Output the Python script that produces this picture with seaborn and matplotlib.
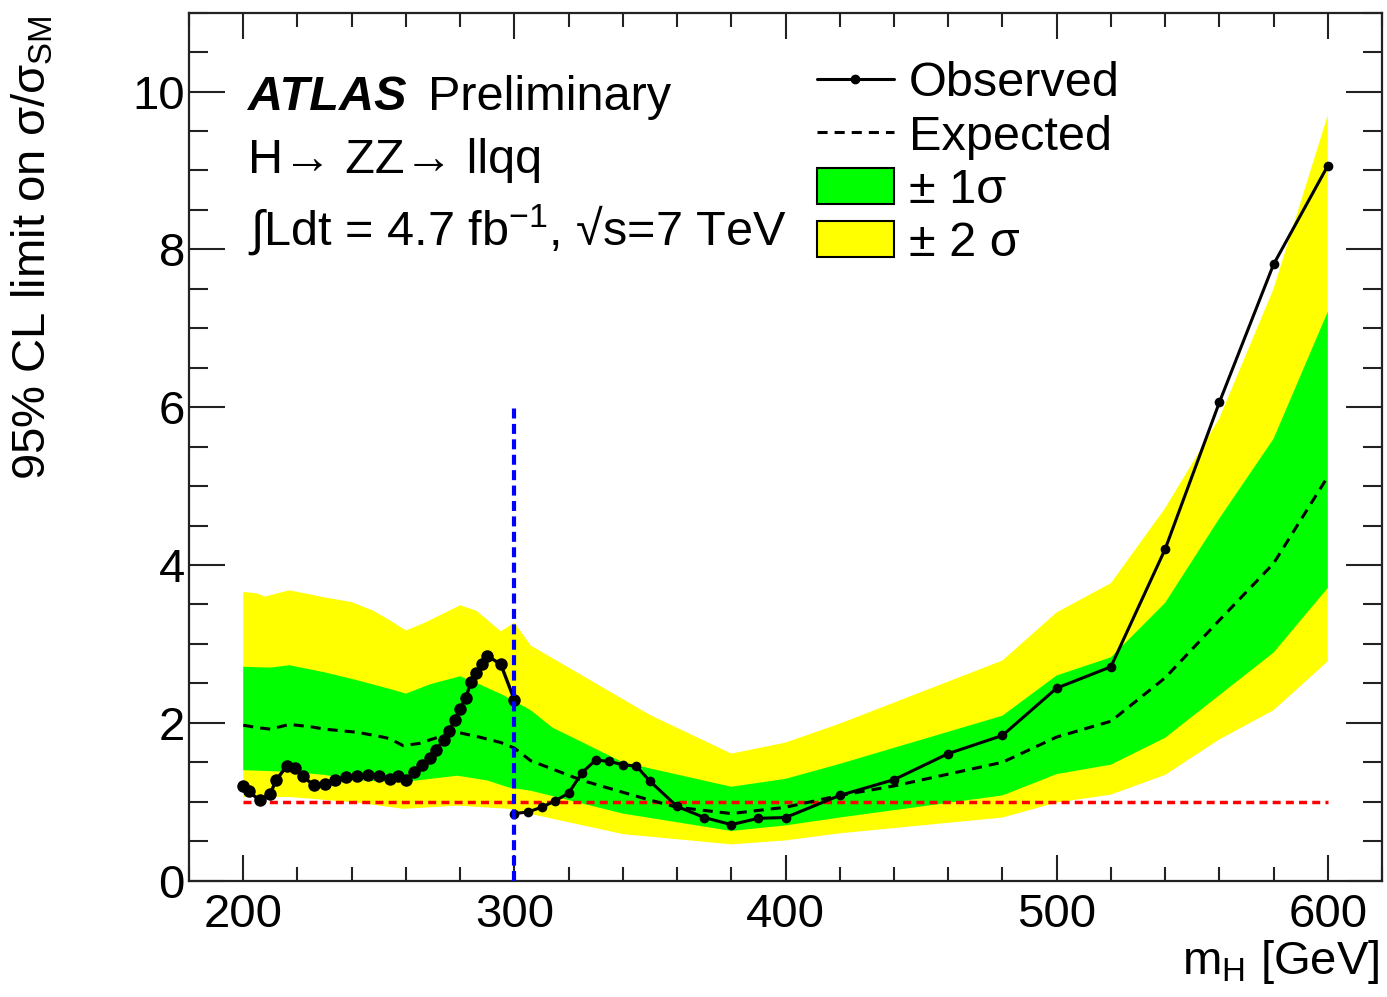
import numpy as np
import pandas as pd
import matplotlib
matplotlib.use("Agg")
import matplotlib.pyplot as plt
from matplotlib.lines import Line2D
from matplotlib.patches import Patch
import seaborn as sns

# observed limit, low-mass analysis (200-300 GeV)
obs_lo_m = [200, 202, 206, 210, 212, 216, 219, 222, 226, 230, 234, 238, 242, 246,
            250, 254, 257, 260, 263, 266, 269, 271, 274, 276, 278, 280, 282, 284,
            286, 288, 290, 295, 300]
obs_lo = [1.20, 1.13, 1.02, 1.10, 1.27, 1.45, 1.43, 1.32, 1.21, 1.23, 1.28, 1.31, 1.32, 1.34,
          1.33, 1.29, 1.32, 1.28, 1.38, 1.47, 1.55, 1.66, 1.78, 1.90, 2.04, 2.18, 2.31, 2.52,
          2.63, 2.74, 2.85, 2.74, 2.29]

# observed limit, high-mass analysis (300-600 GeV)
obs_hi_m = [300, 305, 310, 315, 320, 325, 330, 335, 340, 345, 350, 360, 370, 380, 390,
            400, 420, 440, 460, 480, 500, 520, 540, 560, 580, 600]
obs_hi = [0.85, 0.87, 0.93, 1.01, 1.11, 1.37, 1.53, 1.51, 1.47, 1.45, 1.26, 0.94, 0.80, 0.71, 0.79,
          0.80, 1.08, 1.28, 1.61, 1.84, 2.44, 2.71, 4.20, 6.06, 7.81, 9.06]

# expected limit
exp_m = [200, 205, 210, 217, 225, 230, 242, 250, 254, 259, 265, 272, 279, 287, 295, 300,
         306, 325, 348, 360, 380, 400, 420, 440, 460, 480, 500, 520, 540, 560, 580, 600]
exp_v = [1.97, 1.94, 1.92, 1.98, 1.95, 1.92, 1.88, 1.83, 1.80, 1.71, 1.74, 1.82, 1.88, 1.82, 1.75, 1.68,
         1.52, 1.27, 1.04, 0.93, 0.85, 0.93, 1.08, 1.20, 1.35, 1.50, 1.82, 2.02, 2.57, 3.30, 4.02, 5.12]

# +-1 sigma band edges
s1_up_m = [200, 210, 217, 230, 242, 254, 260, 269, 280, 287, 296, 306, 314, 340, 380, 400,
           420, 480, 500, 520, 540, 560, 580, 600]
s1_up = [2.71, 2.70, 2.73, 2.64, 2.54, 2.43, 2.37, 2.49, 2.59, 2.49, 2.35, 2.16, 1.94, 1.50, 1.19, 1.29,
         1.48, 2.09, 2.60, 2.83, 3.52, 4.59, 5.60, 7.21]
s1_dn_m = [200, 217, 230, 242, 259, 279, 290, 298, 306, 340, 380, 400, 420, 480, 500, 520,
           540, 560, 580, 600]
s1_dn = [1.40, 1.38, 1.34, 1.27, 1.25, 1.33, 1.27, 1.18, 1.14, 0.85, 0.63, 0.70, 0.80, 1.08, 1.35, 1.47,
         1.81, 2.35, 2.89, 3.71]

# +-2 sigma band edges
s2_up_m = [200, 205, 208, 217, 230, 240, 248, 254, 260, 267, 280, 286, 295, 300, 306, 330,
           350, 380, 400, 420, 480, 500, 520, 540, 560, 580, 600]
s2_up = [3.66, 3.64, 3.60, 3.68, 3.59, 3.53, 3.42, 3.30, 3.17, 3.27, 3.49, 3.42, 3.16, 3.27, 2.98, 2.50,
         2.10, 1.61, 1.75, 1.99, 2.79, 3.40, 3.77, 4.72, 5.86, 7.50, 9.70]
s2_dn_m = [200, 217, 242, 259, 279, 298, 300, 340, 380, 400, 420, 480, 500, 520, 540, 560,
           580, 600]
s2_dn = [1.06, 1.06, 0.99, 0.91, 0.95, 0.91, 0.89, 0.59, 0.46, 0.51, 0.60, 0.80, 0.99, 1.09, 1.34, 1.79,
         2.16, 2.78]

sns.set_theme(style="ticks")
plt.rcParams["font.family"] = ["Liberation Sans", "DejaVu Sans"]
plt.rcParams["mathtext.fontset"] = "custom"
plt.rcParams["mathtext.rm"] = "Liberation Sans"
plt.rcParams["mathtext.it"] = "Liberation Sans:italic"
plt.rcParams["mathtext.bf"] = "Liberation Sans:bold"
plt.rcParams["text.color"] = "black"
plt.rcParams["axes.labelcolor"] = "black"
plt.rcParams["xtick.color"] = "black"
plt.rcParams["ytick.color"] = "black"

fig = plt.figure(figsize=(13.87, 9.97), dpi=100)
ax = fig.add_axes([0.1363, 0.1167, 0.8601, 0.8706])

yellow = "#ffff00"
green = "#00ff00"

ax.fill(np.r_[s2_up_m, s2_dn_m[::-1]], np.r_[s2_up, s2_dn[::-1]],
        color=yellow, lw=0, zorder=1)
ax.fill(np.r_[s1_up_m, s1_dn_m[::-1]], np.r_[s1_up, s1_dn[::-1]],
        color=green, lw=0, zorder=2)

ax.plot([200, 600], [1, 1], color="#ff0000", lw=2.5, linestyle=(0, (2.3, 1.5)), zorder=3)

sns.lineplot(x=exp_m, y=exp_v, ax=ax, color="black", lw=2.2,
             linestyle=(0, (3.3, 2.3)), zorder=4)
sns.lineplot(x=obs_lo_m, y=obs_lo, ax=ax, color="black", lw=2.4,
             marker="o", markersize=9, markeredgewidth=0, zorder=5)
sns.lineplot(x=obs_hi_m, y=obs_hi, ax=ax, color="black", lw=2.2,
             marker="o", markersize=7, markeredgewidth=0, zorder=5)

ax.plot([300, 300], [0, 6], color="#0000ff", lw=3, linestyle=(0, (2.4, 1.3)), zorder=6)

ax.set_xlim(180, 620)
ax.set_ylim(0, 11)
ax.set_xticks([200, 300, 400, 500, 600])
ax.set_xticks(np.arange(180, 621, 20), minor=True)
ax.set_yticks([0, 2, 4, 6, 8, 10])
ax.set_yticks(np.arange(0, 11.01, 0.5), minor=True)

for s in ax.spines.values():
    s.set_visible(True)
    s.set_color("#222222")
    s.set_linewidth(1.6)

ax.tick_params(which="both", direction="in", top=True, right=True,
               width=1.5, color="#222222", labelsize=34)
ax.tick_params(axis="x", which="major", length=19, pad=9)
ax.tick_params(axis="x", which="minor", length=10)
ax.tick_params(axis="y", which="major", length=26, pad=3)
ax.tick_params(axis="y", which="minor", length=14)

ax.set_ylabel("95% CL limit on σ/σ$_{\\mathrm{SM}}$", fontsize=34, loc="top")
ax.yaxis.set_label_coords(-0.112, 0.997)
ax.set_xlabel("m$_{\\mathrm{H}}$ [GeV]", fontsize=34, loc="right")
ax.xaxis.set_label_coords(0.998, -0.066)

ax.text(0.0495, 0.888, "ATLAS", transform=ax.transAxes, fontsize=35,
        fontweight="bold", fontstyle="italic", va="baseline")
ax.text(0.2003, 0.888, "Preliminary", transform=ax.transAxes, fontsize=35, va="baseline")
ax.text(0.0495, 0.815, "H→ ZZ→ llqq", transform=ax.transAxes,
        fontsize=35, va="baseline")
ax.text(0.0495, 0.732, "$\\int$Ldt = 4.7 fb$^{\\mathrm{-1}}$, √s=7 TeV",
        transform=ax.transAxes, fontsize=35, va="baseline")

handles = [
    Line2D([], [], color="black", lw=2.2, marker="o", markersize=6),
    Line2D([], [], color="black", lw=2.2, linestyle=(0, (3.3, 2.3))),
    Patch(facecolor=green, edgecolor="black", lw=1.5),
    Patch(facecolor=yellow, edgecolor="black", lw=1.5),
]
labels = ["Observed", "Expected", "± 1σ", "± 2 σ"]
ax.legend(handles, labels, loc="upper left", bbox_to_anchor=(0.526, 0.944),
          frameon=False, fontsize=35, handlelength=1.6, handleheight=0.75,
          handletextpad=0.3, labelspacing=0.17, borderpad=0, borderaxespad=0)

fig.savefig("out.png", dpi=100)
